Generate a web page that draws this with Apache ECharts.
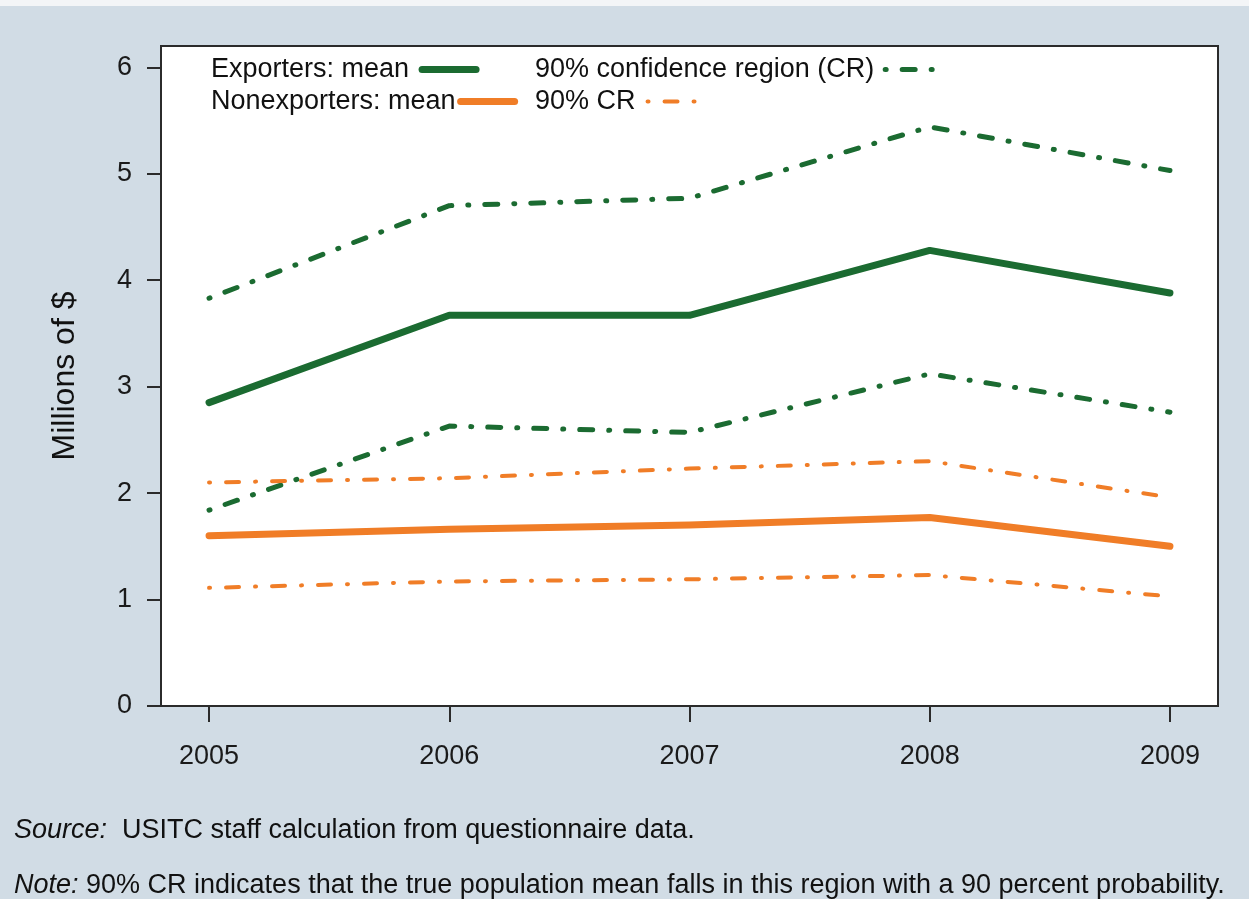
<!DOCTYPE html>
<html>
<head>
<meta charset="utf-8">
<script src="https://cdn.jsdelivr.net/npm/echarts@6/dist/echarts.min.js"></script>
<style>
  html, body { margin: 0; padding: 0; background: #d1dce5; }
  #chart { width: 1249px; height: 899px; }
</style>
</head>
<body>
<div id="chart"></div>
<script>
// data (millions of $)
const years = [2005, 2006, 2007, 2008, 2009];
const yTicks = [0, 1, 2, 3, 4, 5, 6];
const expMean = [2.85, 3.67, 3.67, 4.28, 3.88];
const expUpper = [3.83, 4.70, 4.77, 5.44, 5.03];
const expLower = [1.84, 2.63, 2.57, 3.12, 2.76];
const nonMean = [1.60, 1.66, 1.70, 1.77, 1.50];
const nonUpper = [2.10, 2.14, 2.23, 2.30, 1.96];
const nonLower = [1.11, 1.17, 1.19, 1.23, 1.03];

const GREEN = '#1b6b31';
const ORANGE = '#f07d27';
const FONT = '"Liberation Sans", Arial, sans-serif';

const pairs = vals => years.map((y, i) => [y, vals[i]]);

// mean lines solid, CR lines dash-dot
const makeLine = (name, vals, color, width, dashed) => ({
  name: name,
  type: 'line',
  symbol: 'none',
  silent: true,
  data: pairs(vals),
  lineStyle: {
    color: color,
    width: width,
    type: dashed ? [1, 16, 13, 16] : 'solid',
    cap: 'round',
    join: 'round'
  },
  itemStyle: { color: color }
});

// one legend per entry so the two columns line up like the original
const makeLegend = (name, left, top, gap) => ({
  left: left, top: top,
  orient: 'horizontal',
  align: 'right',
  itemWidth: 54, itemHeight: 14,
  selectedMode: false,
  itemStyle: { opacity: 0 },
  lineStyle: { width: 'inherit', cap: 'round' },
  textStyle: { fontSize: 27, color: '#111', fontFamily: FONT, padding: [0, gap, 0, 0] },
  data: [name]
});

const chart = echarts.init(document.getElementById('chart'));

const option = {
  backgroundColor: '#d1dce5',
  animation: false,
  textStyle: { fontFamily: FONT },
  grid: {
    left: 161, top: 46, right: 31, bottom: 193,
    show: true,
    backgroundColor: '#ffffff',
    borderColor: '#2b2b2b',
    borderWidth: 2
  },
  legend: [
    makeLegend('Exporters: mean', 206, 51, 8),
    makeLegend('Nonexporters: mean', 206, 83, 0),
    makeLegend('90% confidence region (CR)', 530, 51, 6),
    makeLegend('90% CR', 530, 83, 7)
  ],
  xAxis: {
    type: 'value',
    min: 2004.8,
    max: 2009.2,
    splitLine: { show: false },
    axisLine: { show: true, onZero: false, lineStyle: { color: '#2b2b2b', width: 2 } },
    axisTick: { show: true, length: 16, customValues: years, lineStyle: { color: '#2b2b2b', width: 2 } },
    axisLabel: {
      customValues: years,
      margin: 37,
      fontSize: 27,
      color: '#1a1a1a',
      fontFamily: FONT,
      formatter: v => String(v)
    }
  },
  yAxis: {
    type: 'value',
    min: 0,
    max: 6.2,
    name: 'Millions of $',
    nameLocation: 'middle',
    nameGap: 80,
    nameTextStyle: { fontSize: 32, color: '#111', fontFamily: FONT },
    splitLine: { show: false },
    axisLine: { show: true, lineStyle: { color: '#2b2b2b', width: 2 } },
    axisTick: { show: true, length: 14, customValues: yTicks, lineStyle: { color: '#2b2b2b', width: 2 } },
    axisLabel: {
      customValues: yTicks,
      margin: 29,
      fontSize: 27,
      color: '#1a1a1a',
      fontFamily: FONT
    }
  },
  graphic: [
    {
      type: 'rect',
      left: 0, top: 0,
      shape: { width: 1249, height: 6 },
      style: { fill: '#f3f5f7' },
      silent: true
    },
    {
      type: 'text',
      left: 14, top: 817,
      style: {
        text: '{i|Source:}  USITC staff calculation from questionnaire data.',
        font: '27px ' + FONT,
        fill: '#111',
        rich: { i: { fontStyle: 'italic', fontSize: 27, fontFamily: FONT, fill: '#111' } }
      }
    },
    {
      type: 'text',
      left: 14, top: 872,
      style: {
        text: '{i|Note:} 90% CR indicates that the true population mean falls in this region with a 90 percent probability.',
        font: '27px ' + FONT,
        fill: '#111',
        rich: { i: { fontStyle: 'italic', fontSize: 27, fontFamily: FONT, fill: '#111' } }
      }
    }
  ],
  series: [
    makeLine('90% confidence region (CR)', expUpper, GREEN, 5, true),
    makeLine('90% confidence region (CR)', expLower, GREEN, 5, true),
    makeLine('90% CR', nonUpper, ORANGE, 4, true),
    makeLine('90% CR', nonLower, ORANGE, 4, true),
    makeLine('Nonexporters: mean', nonMean, ORANGE, 7, false),
    makeLine('Exporters: mean', expMean, GREEN, 7, false)
  ]
};

chart.setOption(option);
</script>
</body>
</html>
